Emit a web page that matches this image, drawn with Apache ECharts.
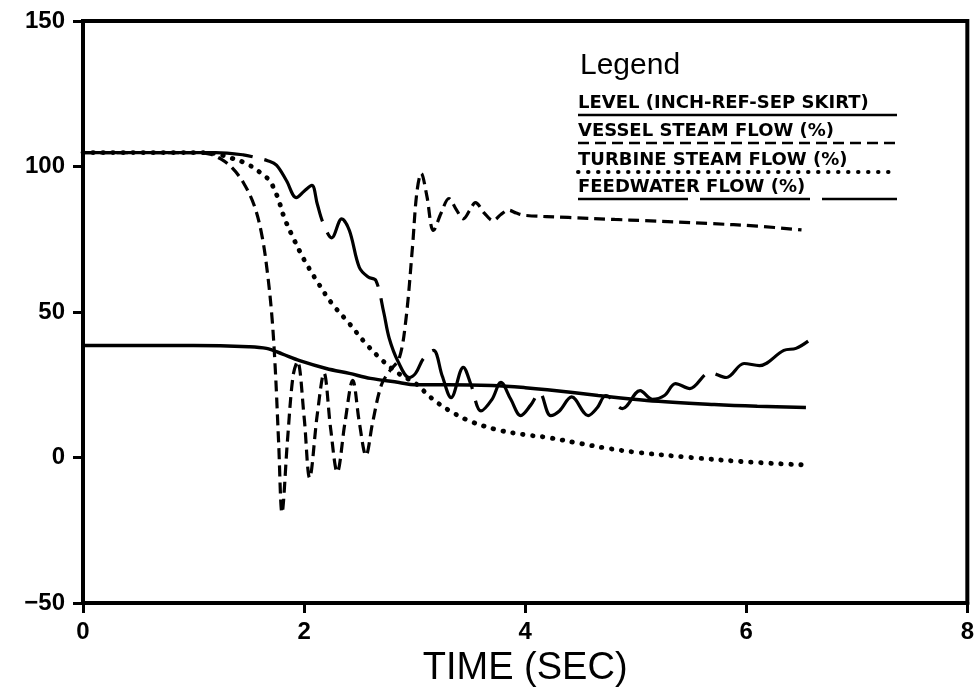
<!DOCTYPE html>
<html>
<head>
<meta charset="utf-8">
<style>
  html, body { margin: 0; padding: 0; background: #fff; }
  #chart { width: 977px; height: 696px; }
</style>
<script src="https://cdn.jsdelivr.net/npm/echarts@6/dist/echarts.min.js"></script>
</head>
<body>
<div id="chart"></div>
<script>
// Time axis (seconds) and value axis settings
const xTicks = { min: 0, max: 8, interval: 2 };
const yTicks = { min: -50, max: 150, interval: 50 };

// Series names as shown in the legend
const seriesNames = [
  'LEVEL (INCH-REF-SEP SKIRT)',
  'VESSEL STEAM FLOW (%)',
  'TURBINE STEAM FLOW (%)',
  'FEEDWATER FLOW (%)'
];

// [time (s), value]
const levelData = [
  [0, 38.5], [1.0, 38.5], [1.5, 38.1], [1.66, 37.5], [1.8, 35.6], [1.96, 33.3],
  [2.2, 30.6], [2.41, 28.9], [2.6, 27.2], [2.86, 25.8], [3.0, 25.0], [3.3, 25.0],
  [3.7, 24.7], [4.0, 24.0], [4.2, 23.3], [4.66, 21.3], [5.1, 19.6], [5.71, 18.2],
  [6.1, 17.6], [6.54, 17.2]
];

const vesselData = [
  [0, 104.8], [1.0, 104.8], [1.15, 104.2], [1.25, 102.5], [1.35, 99.5], [1.45, 94.5],
  [1.55, 86.5], [1.62, 76], [1.67, 63], [1.71, 48], [1.74, 30], [1.77, 5],
  [1.8, -19], [1.85, 6], [1.9, 28], [1.94, 33], [2.0, 14], [2.05, -7],
  [2.12, 15], [2.18, 29], [2.24, 10], [2.3, -5], [2.37, 12], [2.44, 26.5],
  [2.5, 12], [2.56, 0.7], [2.62, 12], [2.7, 25], [2.78, 30], [2.86, 34],
  [2.92, 47], [2.98, 72], [3.02, 91], [3.06, 97.6], [3.11, 90], [3.17, 78],
  [3.24, 84], [3.31, 89], [3.38, 85], [3.44, 82], [3.5, 85], [3.55, 87.6],
  [3.63, 84], [3.71, 81.4], [3.78, 83.5], [3.85, 85], [3.92, 84], [4.0, 83.2],
  [4.39, 82.5], [4.81, 81.8], [5.08, 81.4], [5.67, 80.4], [6.1, 79.5], [6.5, 78.2]
];

const turbineData = [
  [0, 104.8], [1.0, 104.8], [1.2, 104.4], [1.33, 103], [1.48, 101], [1.6, 98],
  [1.69, 95], [1.76, 89.5], [1.82, 82.5], [1.9, 75.6], [2.0, 68], [2.11, 61],
  [2.25, 53], [2.41, 46], [2.55, 39.5], [2.71, 33.3], [2.85, 29], [3.01, 25.4],
  [3.15, 20.5], [3.31, 16.2], [3.5, 12.5], [3.75, 9.5], [4.0, 7.8], [4.2, 6.9],
  [4.5, 4.8], [4.77, 3], [5.0, 1.8], [5.5, 0], [6.0, -1.5], [6.5, -2.5]
];

const feedwaterData = [
  [0, 104.8], [1.2, 104.8], [1.45, 104], [1.57, 103], [1.67, 102], [1.75, 100.5],
  [1.84, 95.2], [1.93, 89.3], [2.0, 91.5], [2.07, 93.5], [2.12, 87], [2.17, 80.8],
  [2.25, 75.5], [2.34, 82], [2.41, 78], [2.5, 65.3], [2.58, 62], [2.65, 60.8],
  [2.72, 50], [2.77, 41], [2.85, 33], [2.95, 27.5], [3.01, 29], [3.08, 34],
  [3.17, 36.8], [3.25, 28], [3.33, 20.6], [3.44, 31], [3.51, 25], [3.6, 16],
  [3.7, 20], [3.78, 25.8], [3.87, 20], [3.96, 14.4], [4.05, 18], [4.13, 22.3],
  [4.23, 14.4], [4.31, 16], [4.42, 20.8], [4.57, 14.4], [4.65, 17], [4.73, 21.3],
  [4.88, 16.8], [5.04, 23], [5.15, 20], [5.26, 21.3], [5.36, 25.4], [5.49, 23.7],
  [5.67, 29.2], [5.82, 27.5], [5.98, 32.3], [6.12, 31.6], [6.34, 36.8], [6.45, 37.5],
  [6.56, 40]
];

// Line looks for each series (also reused for the legend samples)
const looks = [
  { type: 'solid', width: 3.5, cap: 'butt', offset: 0 },
  { type: [11, 6], width: 3.2, cap: 'butt', offset: 0 },
  { type: [0.5, 9.5], width: 4.8, cap: 'round', offset: 0 },
  { type: [110, 12], width: 3.2, cap: 'butt', offset: 62 }
];

const chart = echarts.init(document.getElementById('chart'));

const axisFont = { fontFamily: 'Liberation Sans', fontSize: 24, color: '#000', fontWeight: 'bold' };

// Hand-built legend block: title, labels and line samples under each label
const legendX = 578;
const legendRight = 897;
const rowBase = [112, 140, 169, 196];
const legendGraphics = [
  {
    type: 'text', left: 580, top: 51,
    style: { text: 'Legend', font: '30px "Liberation Sans"', fill: '#000' }
  }
];
seriesNames.forEach((name, i) => {
  legendGraphics.push({
    type: 'text', x: legendX, y: rowBase[i],
    style: {
      text: name, font: 'bold 18px "DejaVu Sans"', fill: '#000',
      textVerticalAlign: 'bottom', verticalAlign: 'bottom'
    }
  });
  const lk = looks[i];
  legendGraphics.push({
    type: 'line',
    shape: { x1: legendX, y1: rowBase[i] + 3, x2: legendRight, y2: rowBase[i] + 3 },
    style: {
      stroke: '#000', lineWidth: lk.width - 0.8,
      lineDash: lk.type === 'solid' ? null : lk.type,
      lineCap: lk.cap
    }
  });
});

const seriesData = [levelData, vesselData, turbineData, feedwaterData];

chart.setOption({
  animation: false,
  backgroundColor: '#fff',
  grid: {
    left: 83, right: 5, top: 21, bottom: 93,
    show: true, borderColor: '#000', borderWidth: 4
  },
  xAxis: {
    type: 'value',
    min: xTicks.min, max: xTicks.max, interval: xTicks.interval,
    name: 'TIME (SEC)',
    nameLocation: 'middle',
    nameGap: 47,
    nameTextStyle: { fontFamily: 'Liberation Sans', fontSize: 38, color: '#000' },
    axisLine: { show: true, onZero: false, lineStyle: { color: '#000', width: 4 } },
    axisTick: { show: true, length: 10, lineStyle: { color: '#000', width: 3 } },
    axisLabel: Object.assign({ margin: 17, showMinLabel: true, showMaxLabel: true }, axisFont),
    splitLine: { show: false }
  },
  yAxis: {
    type: 'value',
    min: yTicks.min, max: yTicks.max, interval: yTicks.interval,
    axisLine: { show: true, onZero: false, lineStyle: { color: '#000', width: 4 } },
    axisTick: { show: true, length: 10, lineStyle: { color: '#000', width: 3 } },
    axisLabel: Object.assign({
      margin: 18, showMinLabel: true, showMaxLabel: true,
      formatter: v => (v < 0 ? '\u2212' + Math.abs(v) : String(v))
    }, axisFont),
    splitLine: { show: false }
  },
  graphic: legendGraphics,
  series: seriesData.map((d, i) => ({
    name: seriesNames[i],
    type: 'line',
    data: d,
    smooth: 0.35,
    showSymbol: false,
    symbol: 'none',
    lineStyle: {
      color: '#000', width: looks[i].width, type: looks[i].type,
      cap: looks[i].cap, dashOffset: looks[i].offset
    },
    z: 3 + i
  }))
});
</script>
</body>
</html>
